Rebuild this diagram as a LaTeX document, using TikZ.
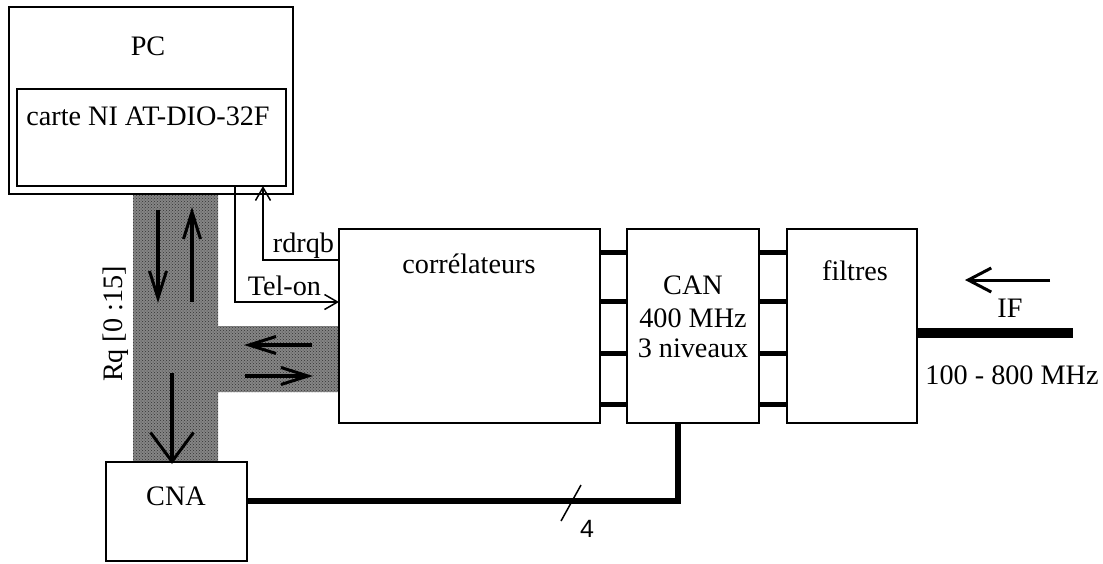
\documentclass[tikz,border=0pt]{standalone}
\usepackage{fontspec}
\setmainfont{Liberation Serif}
\newfontfamily\arialf{Liberation Sans}
\usetikzlibrary{arrows.meta,patterns}
\begin{document}
\begin{tikzpicture}[x=1pt,y=-1pt,
  every node/.style={inner sep=0pt,outer sep=0pt,font=\fontsize{28.2}{32}\selectfont},
  box/.style={draw,line width=1.5pt,fill=white,anchor=north west},
  lbl/.style={anchor=base},
  barrow/.style={line width=3.5pt,-{Straight Barb[length=27pt,width=17pt,line width=3pt]}},
  wbarrow/.style={line width=3.5pt,-{Straight Barb[length=29pt,width=43pt,line width=3pt]}},
  sarrow/.style={line width=1.5pt,-{Straight Barb[length=13pt,width=15pt,line width=1.5pt]}},
  ifarrow/.style={line width=3pt,-{Straight Barb[length=23pt,width=24pt,line width=3pt]}},
  busline/.style={line width=5pt},
  thin/.style={line width=1.5pt}
]
\useasboundingbox (0,0) rectangle (1103,563);

% shaded bus
\fill[black!48] (133,186) -- (218,186) -- (218,326) -- (339,326) -- (339,392) -- (218,392) -- (218,462) -- (133,462) -- cycle;
\fill[pattern=crosshatch dots,pattern color=black!80] (133,186) -- (218,186) -- (218,326) -- (339,326) -- (339,392) -- (218,392) -- (218,462) -- (133,462) -- cycle;

% boxes
\node[box,minimum width=284pt,minimum height=187pt] (pc) at (9,7) {};
\node[box,minimum width=269pt,minimum height=97pt] (pcin) at (17,89) {};
\node[box,minimum width=261pt,minimum height=194pt] (corr) at (339,229) {};
\node[box,minimum width=132pt,minimum height=194pt] (can) at (627,229) {};
\node[box,minimum width=130pt,minimum height=194pt] (filt) at (787,229) {};
\node[box,minimum width=141pt,minimum height=99pt] (cna) at (106,462) {};

% texts
\node[lbl] (tpc) at (148,55) {PC};
\node[lbl] (tcarte) at (148,125) {carte NI AT-DIO-32F};
\node[lbl] (tcorr) at (469,273) {corrélateurs};
\node[lbl] (tcan1) at (693,294) {CAN};
\node[lbl] (tcan2) at (693,327) {400 MHz};
\node[lbl] (tcan3) at (693,357) {3 niveaux};
\node[lbl] (tfilt) at (855,280) {filtres};
\node[lbl] (tif) at (1010,317) {IF};
\node[lbl] (tband) at (1012,384) {100 - 800 MHz};
\node[lbl] (tcna) at (176,505) {CNA};
\node[anchor=base east] (trdrqb) at (334,252) {rdrqb};
\node[anchor=base east] (ttel) at (321,295) {Tel-on};
\node[rotate=90] (trq) at (116,324) {Rq [0 :15]};
\node[lbl,font=\arialf\fontsize{25}{30}\selectfont] (tfour) at (587,537) {4};

% bus arrows
\coordinate (b1s) at (158,210); \coordinate (b1e) at (158,303);
\coordinate (b2s) at (192,302); \coordinate (b2e) at (192,207);
\coordinate (b3s) at (312,345); \coordinate (b3e) at (244,345);
\coordinate (b4s) at (245,376); \coordinate (b4e) at (313,376);
\coordinate (b5s) at (172,373); \coordinate (b5e) at (cna.north -| 172,0);
\draw[barrow] (b1s) -- (b1e);
\draw[barrow] (b2s) -- (b2e);
\draw[barrow] (b3s) -- (b3e);
\draw[barrow] (b4s) -- (b4e);
\draw[wbarrow] (b5s) -- ([yshift=-2pt]b5e);

% control signals
\draw[sarrow] (corr.west |- 0,260) -| (pcin.south -| 263,0);
\draw[sarrow] (pcin.south -| 235,0) |- (corr.west |- 0,302);

% parallel links
\foreach \yy in {252,301,353,404}{
  \draw[busline] (corr.east |- 0,\yy) -- (can.west |- 0,\yy);
  \draw[busline] (can.east |- 0,\yy) -- (filt.west |- 0,\yy);
}

% CNA - CAN
\draw[line width=5.5pt] (cna.east |- 0,501) -| (can.south -| 678,0);
\coordinate (sl1) at (561,521); \coordinate (sl2) at (581,485);
\draw[thin] (sl1) -- (sl2);

% IF input
\coordinate (ifend) at (1073,333);
\draw[line width=10pt] (filt.east |- ifend) -- (ifend);
\coordinate (ifa) at (1050,280); \coordinate (ifb) at (965,280);
\draw[ifarrow] (ifa) -- (ifb);
\end{tikzpicture}
\end{document}
